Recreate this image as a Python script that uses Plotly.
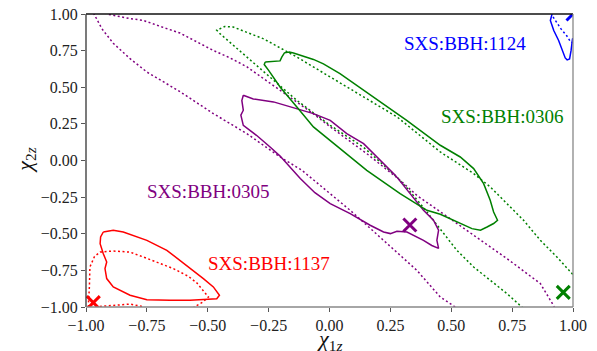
import plotly.graph_objects as go

# ---------------- data ----------------
# SXS:BBH:0305 (purple)
purple_solid_x = [-0.354, -0.313, -0.23, -0.134, -0.066, 0.003, 0.071, 0.14, 0.208, 0.27, 0.331, 0.386,
                  0.427, 0.448, 0.441, 0.448, 0.42, 0.386, 0.318, 0.277, 0.25, 0.222, 0.167, 0.085,
                  0.003, -0.06, -0.12, -0.203, -0.244, -0.3, -0.354, -0.364, -0.354, -0.36, -0.354]
purple_solid_y = [0.445, 0.42, 0.40, 0.354, 0.32, 0.274, 0.183, 0.115, 0.001, -0.1, -0.226, -0.34,
                  -0.408, -0.476, -0.545, -0.60, -0.58, -0.545, -0.488, -0.483, -0.499, -0.488, -0.442, -0.363,
                  -0.294, -0.22, -0.123, 0.03, 0.092, 0.172, 0.24, 0.31, 0.343, 0.41, 0.445]
purple_dot_x = [0.516, 0.455, 0.359, 0.22, 0.085, -0.114, -0.203, -0.34, -0.477, -0.614, -0.75, -0.819,
                -0.888, -0.935, -0.967, -0.94, -0.915, -0.82, -0.766, -0.668, -0.614, -0.478, -0.408, -0.34,
                -0.203, -0.134, -0.067, 0.003, 0.153, 0.29, 0.36, 0.455, 0.592, 0.729, 0.866, 0.92, 0.93]
purple_dot_y = [-1.0, -0.932, -0.75, -0.545, -0.34, -0.066, 0.024, 0.184, 0.32, 0.47, 0.604, 0.695,
                0.80, 0.90, 1.0, 1.05, 1.0, 0.969, 0.957, 0.90, 0.87, 0.752, 0.70, 0.64,
                0.48, 0.40, 0.32, 0.23, 0.047, -0.135, -0.24, -0.35, -0.51, -0.67, -0.84, -0.99, -1.03]
purple_cross_x = [0.33]
purple_cross_y = [-0.44]

# SXS:BBH:0306 (green)
green_solid_x = [-0.264, -0.22, -0.203, -0.196, -0.185, -0.165, -0.148, -0.066, -0.025, 0.043, 0.18, 0.317,
                 0.455, 0.537, 0.592, 0.633, 0.66, 0.674, 0.69, 0.674, 0.647, 0.62, 0.585, 0.537,
                 0.496, 0.455, 0.40, 0.29, 0.153, 0.085, 0.003, -0.066, -0.134, -0.203, -0.25, -0.268, -0.264]
green_solid_y = [0.672, 0.676, 0.68, 0.706, 0.735, 0.74, 0.734, 0.69, 0.66, 0.593, 0.434, 0.274,
                 0.104, 0.024, -0.055, -0.158, -0.272, -0.352, -0.408, -0.43, -0.454, -0.476, -0.465, -0.43,
                 -0.397, -0.367, -0.34, -0.226, -0.067, 0.024, 0.138, 0.229, 0.365, 0.502, 0.615, 0.655, 0.672]
green_dot_x = [1.03, 0.996, 0.934, 0.866, 0.797, 0.729, 0.66, 0.592, 0.455, 0.277, 0.003, -0.134,
               -0.27, -0.395, -0.43, -0.463, -0.45, -0.34, -0.23, -0.134, 0.003, 0.14, 0.277, 0.33,
               0.39, 0.455, 0.523, 0.592, 0.66, 0.729, 0.79, 0.81]
green_dot_y = [-0.81, -0.772, -0.659, -0.545, -0.408, -0.294, -0.18, -0.089, 0.058, 0.298, 0.57, 0.706,
               0.83, 0.911, 0.915, 0.889, 0.866, 0.706, 0.547, 0.41, 0.24, 0.09, -0.113, -0.21,
               -0.33, -0.465, -0.613, -0.727, -0.818, -0.909, -1.0, -1.03]
green_cross_x = [0.96]
green_cross_y = [-0.90]

# SXS:BBH:1137 (red)
red_solid_x = [-0.929, -0.888, -0.847, -0.75, -0.668, -0.586, -0.518, -0.477, -0.452, -0.463, -0.504,
               -0.573, -0.655, -0.75, -0.819, -0.888, -0.915, -0.922, -0.915, -0.929, -0.942, -0.94, -0.929]
red_solid_y = [-0.488, -0.476, -0.488, -0.545, -0.613, -0.715, -0.806, -0.863, -0.92, -0.943, -0.947,
               -0.954, -0.954, -0.95, -0.92, -0.863, -0.806, -0.738, -0.693, -0.636, -0.568, -0.522, -0.488]
red_dot_x = [-0.99, -0.99, -0.986, -0.984, -0.965, -0.942, -0.888, -0.82, -0.764, -0.696, -0.641, -0.58,
             -0.545, -0.497, -0.52, -0.555, -0.57, -0.76, -0.764, -0.82, -0.9, -0.97, -0.99]
red_dot_y = [-1.03, -0.977, -0.86, -0.727, -0.655, -0.625, -0.618, -0.625, -0.659, -0.70, -0.738, -0.79,
             -0.835, -0.932, -0.966, -1.0, -1.03, -1.03, -0.998, -0.98, -0.99, -1.0, -1.03]
red_cross_x = [-0.97]
red_cross_y = [-0.97]

# SXS:BBH:1124 (blue)
blue_solid_x = [0.914, 0.914, 0.907, 0.921, 0.941, 0.955, 0.968, 0.976, 0.986, 0.992, 0.998, 1.02]
blue_solid_y = [1.03, 1.0, 0.955, 0.887, 0.819, 0.75, 0.70, 0.687, 0.693, 0.75, 0.83, 0.85]
blue_dot_x = [0.918, 0.95, 0.975, 0.99, 1.02]
blue_dot_y = [0.98, 0.90, 0.85, 0.81, 0.79]
blue_cross_x = [1.0]
blue_cross_y = [1.0]

# labels
label_text = ["SXS:BBH:1124", "SXS:BBH:0306", "SXS:BBH:0305", "SXS:BBH:1137"]
label_x = [0.556, 0.707, -0.497, -0.247]
label_y = [0.80, 0.30, -0.21, -0.70]

tick_vals = [-1.0, -0.75, -0.5, -0.25, 0.0, 0.25, 0.5, 0.75, 1.0]
tick_text = ["\u22121.00", "\u22120.75", "\u22120.50", "\u22120.25", "0.00", "0.25", "0.50", "0.75", "1.00"]

# ---------------- figure ----------------
PURPLE, GREEN, RED, BLUE = "#800080", "#008000", "#ff0000", "#0000ff"
FONT = "Liberation Serif"
DOT = "2px,2.5px"

fig = go.Figure()

def add_line(x, y, color, dotted):
    fig.add_trace(go.Scatter(x=x, y=y, mode="lines",
                             line=dict(color=color, width=1.5, dash=DOT if dotted else "solid"),
                             hoverinfo="skip", showlegend=False))

def add_cross(x, y, color):
    fig.add_trace(go.Scatter(x=x, y=y, mode="markers",
                             marker=dict(symbol="x-thin", size=13, color=color,
                                         line=dict(color=color, width=3)),
                             cliponaxis=True, hoverinfo="skip", showlegend=False))

add_line(purple_dot_x, purple_dot_y, PURPLE, True)
add_line(green_dot_x, green_dot_y, GREEN, True)
add_line(red_dot_x, red_dot_y, RED, True)
add_line(blue_dot_x, blue_dot_y, BLUE, True)
add_line(purple_solid_x, purple_solid_y, PURPLE, False)
add_line(green_solid_x, green_solid_y, GREEN, False)
add_line(red_solid_x, red_solid_y, RED, False)
add_line(blue_solid_x, blue_solid_y, BLUE, False)
add_cross(purple_cross_x, purple_cross_y, PURPLE)
add_cross(green_cross_x, green_cross_y, GREEN)
add_cross(red_cross_x, red_cross_y, RED)
add_cross(blue_cross_x, blue_cross_y, BLUE)

for t, x, y, c in zip(label_text, label_x, label_y, [BLUE, GREEN, PURPLE, RED]):
    fig.add_annotation(x=x, y=y, text=t, showarrow=False, xanchor="center", yanchor="middle",
                       font=dict(family=FONT, size=19, color=c))

# axis titles
fig.add_annotation(xref="paper", yref="paper", x=0.501, y=-0.113, text="<i>χ</i><sub>1<i>z</i></sub>",
                   showarrow=False, xanchor="center", yanchor="middle",
                   font=dict(family=FONT, size=22, color="#111"))
fig.add_annotation(xref="paper", yref="paper", x=-0.125, y=0.50, text="<i>χ</i><sub>2<i>z</i></sub>",
                   showarrow=False, xanchor="center", yanchor="middle", textangle=-90,
                   font=dict(family=FONT, size=22, color="#111"))

# frame
for (x0, y0, x1, y1, col) in [(0, 1, 1, 1, "#111"), (0, 0, 0, 1, "#333"),
                               (1, 0, 1, 1, "#888"), (0, 0, 1, 0, "#888")]:
    fig.add_shape(type="line", xref="paper", yref="paper", x0=x0, y0=y0, x1=x1, y1=y1,
                  line=dict(color=col, width=1.3), layer="above")

axis_common = dict(range=[-1, 1], tickvals=tick_vals, ticktext=tick_text, showgrid=False,
                   zeroline=False, showline=False, ticks="outside", ticklen=4, tickwidth=1,
                   tickcolor="#555", automargin=False,
                   tickfont=dict(family=FONT, size=16, color="#222"))

fig.update_layout(
    width=597, height=351,
    margin=dict(l=86, r=24, t=14, b=44, autoexpand=False),
    paper_bgcolor="white", plot_bgcolor="white",
    font=dict(family=FONT),
    xaxis=axis_common,
    yaxis=axis_common,
)

fig.write_html("out.html", config={"displayModeBar": False},
               post_script="document.body.style.margin='0';document.body.style.padding='0';")
